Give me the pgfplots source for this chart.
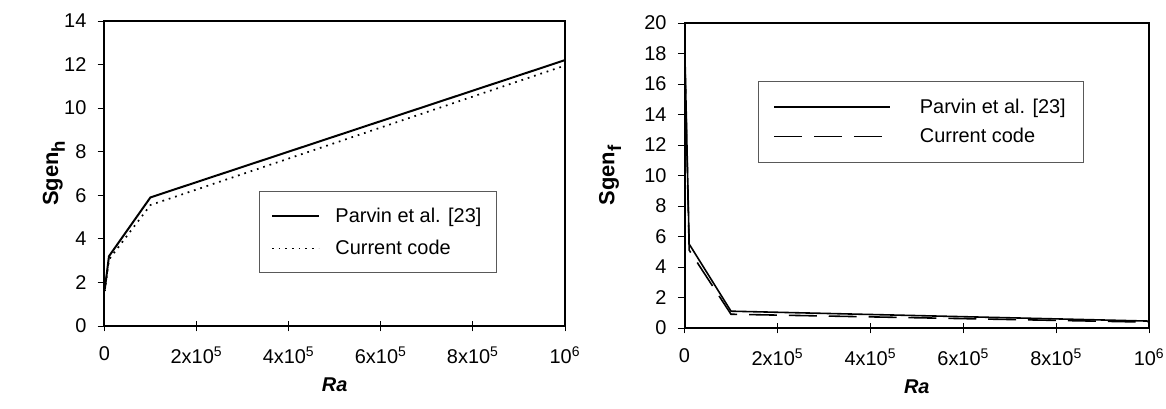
\documentclass[border=0pt]{standalone}
\usepackage{pgfplots}
\pgfplotsset{compat=1.18}
\usepackage{fontspec}
\setmainfont{Liberation Sans}
\begin{document}
\pgfplotsset{
  common/.style={
    scale only axis,
    width=346.5pt, height=229.5pt,
    xmin=0, xmax=1000000,
    xtick={0,200000,400000,600000,800000,1000000},
    xticklabels={0, 2x10\textsuperscript{5}, 4x10\textsuperscript{5}, 6x10\textsuperscript{5}, 8x10\textsuperscript{5}, 10\textsuperscript{6}},
    scaled x ticks=false,
    axis line style={line width=1.5pt},
    every tick/.style={black, line width=0.6pt},
    ytick pos=left, xtick pos=bottom,
    y tick style={/pgfplots/major tick length=5pt},
    xtick align=center, ytick align=outside,
    major tick length=8pt,
    tick label style={font=\fontsize{15}{17}\selectfont},
    /pgf/number format/assume math mode=true,
    xticklabel style={yshift=-8pt},
    yticklabel style={xshift=-2pt},
    label style={font=\bfseries\fontsize{15}{17}\selectfont},
    ylabel style={font=\bfseries\fontsize{16.5}{19}\selectfont},
    xlabel={\textit{Ra}},
    xlabel style={at={(axis description cs:0.5,0)}, anchor=center, yshift=-44pt},
    legend style={draw=gray!70!black, line width=0.6pt, font=\fontsize{15}{17}\selectfont,
      inner xsep=9pt, inner ysep=10pt, row sep=8pt},
    legend cell align=left,
  }
}
\begin{tikzpicture}
\path[use as bounding box] (0,0) rectangle (874.5pt,307.5pt);
\begin{axis}[common,
  at={(75.75pt,62.25pt)}, anchor=south west,
  width=346.5pt,
  ymin=0, ymax=14, ytick={0,2,...,14},
  ylabel={Sgen\raisebox{-0.3em}{\fontsize{14}{16}\selectfont h}},
  ylabel style={at={(axis description cs:0,0.5)}, anchor=center, yshift=38pt},
  legend style={at={(0.335,0.441)}, anchor=north west,
    /tikz/every odd column/.style={column sep=10pt}},
  legend image code/.code={\draw[#1] (0pt,0pt) -- (35pt,0pt);},
]
\addplot[black, line width=1.5pt] coordinates {(1000,1.7) (10000,3.2) (100000,5.9) (1000000,12.2)};
\addlegendentry{Parvin et al. [23]}
\addplot[black, line width=1.3pt, dash pattern=on 1.3pt off 3.7pt] coordinates {(1000,1.6) (10000,3.05) (100000,5.55) (1000000,11.95)};
\addlegendentry{Current code}
\end{axis}
\begin{axis}[common,
  at={(512.25pt,60.75pt)}, anchor=south west,
  width=349.5pt,
  ymin=0, ymax=20, ytick={0,2,...,20},
  ylabel={Sgen\raisebox{-0.3em}{\fontsize{14}{16}\selectfont f}},
  ylabel style={at={(axis description cs:0,0.5)}, anchor=center, yshift=56pt},
  legend style={at={(0.159,0.81)}, anchor=north west, inner xsep=11pt, inner ysep=11pt, row sep=6pt,
    /tikz/every odd column/.style={column sep=20pt}},
  legend image code/.code={\draw[#1] (0pt,0pt) -- (87pt,0pt);},
]
\addplot[black, line width=1.2pt] coordinates {(1000,17.7) (10000,5.5) (100000,1.1) (1000000,0.45)};
\addlegendentry{Parvin et al. [23]\hspace{14pt}}
\addplot[black, line width=1.2pt, dash pattern=on 21pt off 9pt] coordinates {(1000,17.2) (10000,5.1) (100000,0.9) (1000000,0.38)};
\addlegendentry{Current code}
\end{axis}
\end{tikzpicture}
\end{document}
